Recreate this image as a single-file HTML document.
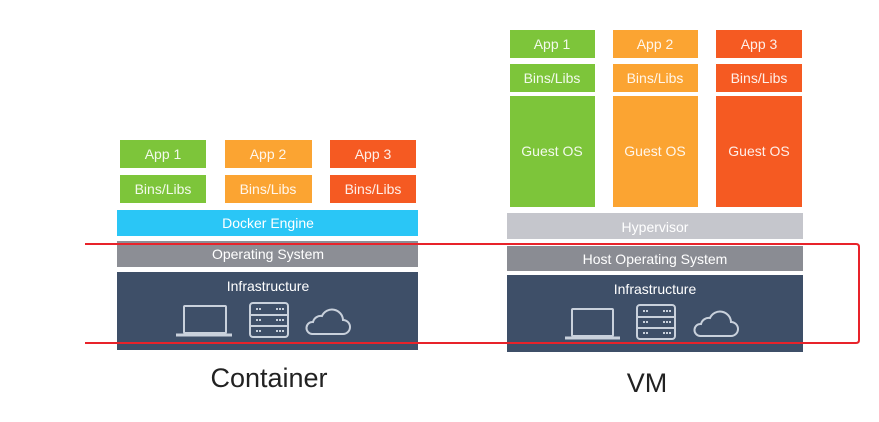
<!DOCTYPE html>
<html><head><meta charset="utf-8"><style>
html,body{margin:0;padding:0;background:#fff;}
svg{display:block;}
text{font-family:"Liberation Sans",sans-serif;fill:#fff;text-anchor:middle;}
</style></head><body>
<svg width="879" height="422" viewBox="0 0 879 422">
<rect width="879" height="422" fill="#fff"/>
<!-- Container -->
<rect x="120" y="140" width="86" height="28" fill="#7dc53a"/>
<rect x="225" y="140" width="87" height="28" fill="#fba432"/>
<rect x="330" y="140" width="86" height="28" fill="#f55a22"/>
<rect x="120" y="175" width="86" height="28" fill="#7dc53a"/>
<rect x="225" y="175" width="87" height="28" fill="#fba432"/>
<rect x="330" y="175" width="86" height="28" fill="#f55a22"/>
<g font-size="14" fill-opacity="0.9">
<text x="163" y="159">App 1</text><text x="268" y="159">App 2</text><text x="373" y="159">App 3</text>
<text x="163" y="194">Bins/Libs</text><text x="268" y="194">Bins/Libs</text><text x="373" y="194">Bins/Libs</text>
</g>
<rect x="117" y="210" width="301" height="26" fill="#2ac6f6"/>
<text x="268" y="228" font-size="14">Docker Engine</text>
<rect x="117" y="241" width="301" height="26" fill="#8c8e95"/>
<text x="268" y="259" font-size="14">Operating System</text>
<rect x="117" y="272" width="301" height="78" fill="#3e4f68"/>
<text x="268" y="291" font-size="14">Infrastructure</text>
<g fill="none" stroke="#c9d1dc" stroke-width="2">
<rect x="184" y="306" width="42" height="27" rx="1"/>
<path d="M176 335 H232" stroke-width="3"/>
<rect x="250" y="303" width="38" height="34" rx="3"/>
<path d="M250 315 H288 M250 326 H288"/>
<path d="M256 309h6M256 320h6M256 331h6M276 309h8M276 320h8M276 331h8" stroke-dasharray="2 1"/>
<path d="M312 334 H343 A7 7 0 0 0 343 320 A11 11 0 0 0 322 316 A8 8 0 0 0 313 322 A6 6 0 0 0 312 334 Z"/>
</g>
<text x="269" y="387" font-size="27" style="fill:#222">Container</text>
<!-- VM -->
<rect x="510" y="30" width="85" height="28" fill="#7dc53a"/>
<rect x="613" y="30" width="85" height="28" fill="#fba432"/>
<rect x="716" y="30" width="86" height="28" fill="#f55a22"/>
<rect x="510" y="64" width="85" height="28" fill="#7dc53a"/>
<rect x="613" y="64" width="85" height="28" fill="#fba432"/>
<rect x="716" y="64" width="86" height="28" fill="#f55a22"/>
<rect x="510" y="96" width="85" height="111" fill="#7dc53a"/>
<rect x="613" y="96" width="85" height="111" fill="#fba432"/>
<rect x="716" y="96" width="86" height="111" fill="#f55a22"/>
<g font-size="14" fill-opacity="0.9">
<text x="552" y="49">App 1</text><text x="655" y="49">App 2</text><text x="759" y="49">App 3</text>
<text x="552" y="83">Bins/Libs</text><text x="655" y="83">Bins/Libs</text><text x="759" y="83">Bins/Libs</text>
<text x="552" y="156">Guest OS</text><text x="655" y="156">Guest OS</text><text x="759" y="156">Guest OS</text>
</g>
<rect x="507" y="213" width="296" height="26" fill="#c5c6cc"/>
<text x="655" y="232" font-size="14">Hypervisor</text>
<rect x="507" y="246" width="296" height="25" fill="#8a8c93"/>
<text x="655" y="264" font-size="14">Host Operating System</text>
<rect x="507" y="275" width="296" height="77" fill="#3e4f68"/>
<text x="655" y="294" font-size="14">Infrastructure</text>
<g fill="none" stroke="#c9d1dc" stroke-width="2">
<rect x="572" y="309" width="41" height="27" rx="1"/>
<path d="M565 338 H620" stroke-width="3"/>
<rect x="637" y="305" width="38" height="34" rx="3"/>
<path d="M637 317 H675 M637 328 H675"/>
<path d="M643 311h6M643 322h6M643 333h6M663 311h8M663 322h8M663 333h8" stroke-dasharray="2 1"/>
<path d="M700 336 H731 A7 7 0 0 0 731 322 A11 11 0 0 0 710 318 A8 8 0 0 0 701 324 A6 6 0 0 0 700 336 Z"/>
</g>
<text x="647" y="392" font-size="27" style="fill:#222">VM</text>
<!-- red annotation -->
<path d="M85 244 H856 Q859 244 859 247 V340 Q859 343 856 343 H85" fill="none" stroke="#e8232a" stroke-width="2"/>
</svg>
</body></html>
